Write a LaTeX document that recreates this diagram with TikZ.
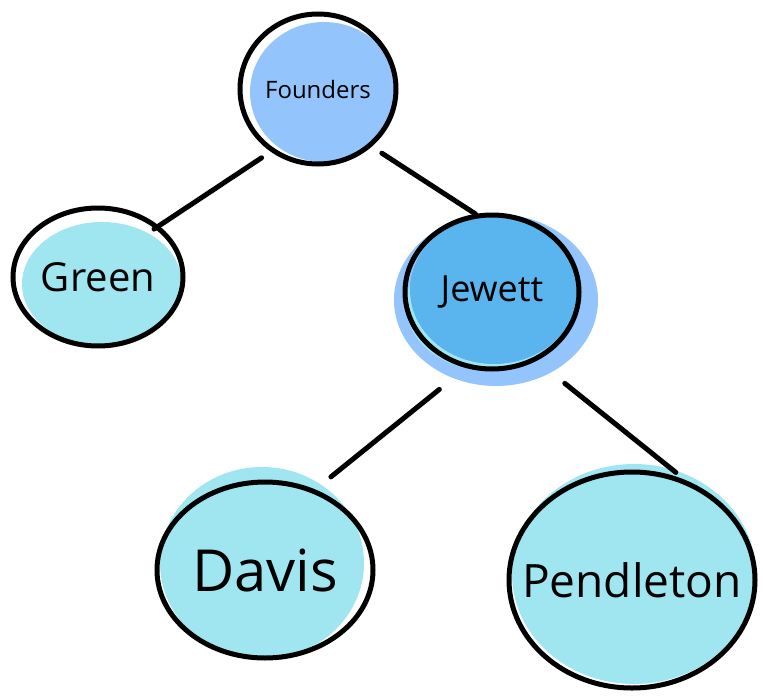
\documentclass[tikz,border=0pt]{standalone}
\usepackage{fontspec}
\setmainfont{Open Sans}
\usetikzlibrary{shapes.geometric}
\definecolor{topblue}{HTML}{93C5FC}
\definecolor{midblue}{HTML}{5AB4EE}
\definecolor{leafcyan}{HTML}{A0E6F0}
\newcommand{\blob}[5]{%
\fill[#5] (#1,#2) ellipse ({#3pt} and {#4pt});
}
\tikzset{
  person/.style={ellipse, draw=black, line width=5pt, inner sep=0pt},
  link/.style={line width=5pt, line cap=round}
}

\begin{document}
\begin{tikzpicture}[x=1pt,y=-1pt]
\useasboundingbox (0,0) rectangle (763,696);

% colour patches behind the outlines
\blob{324}{92}{74}{70}{topblue}
\blob{102}{284}{80}{62}{leafcyan}
\blob{496}{300}{102}{86}{topblue}
\blob{486}{305}{80}{65}{leafcyan}
\blob{494}{290}{84}{74}{midblue}
\blob{262}{563}{102}{96}{leafcyan}
\blob{634}{574}{122}{110}{leafcyan}

% outlines
\node[person, minimum width=156pt, minimum height=150pt, font=\fontsize{24}{28}\selectfont] (founders) at (318,89) {Founders};
\node[person, minimum width=170pt, minimum height=138pt, font=\fontsize{40}{44}\selectfont] (green) at (98,277) {Green};
\node[person, minimum width=174pt, minimum height=154pt, font=\fontsize{36}{40}\selectfont] (jewett) at (492,292) {Jewett};
\node[person, minimum width=216pt, minimum height=176pt, font=\fontsize{58}{62}\selectfont] (davis) at (265,570) {Davis};
\node[person, minimum width=246pt, minimum height=216pt, inner xsep=-25pt, font=\fontsize{46}{50}\selectfont] (pendleton) at (632,580) {Pendleton};

% links
\draw[link, shorten <=11pt, shorten >=-6pt] (founders.233) -- (green.40);
\draw[link, shorten <=12pt] (founders.313) -- (jewett.102);
\draw[link, shorten <=34pt, shorten >=20pt] (jewett.251) -- (davis.58);
\draw[link, shorten <=36pt, shorten >=12pt] (jewett.303) -- (pendleton.62);

\end{tikzpicture}
\end{document}
